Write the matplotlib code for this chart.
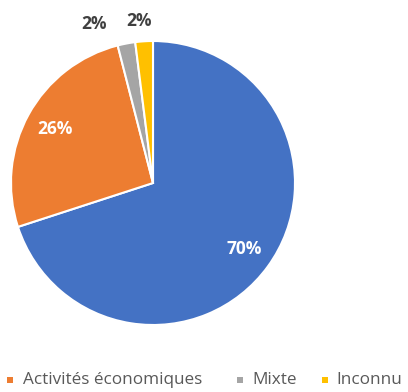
import matplotlib.pyplot as plt
from matplotlib.patches import Rectangle

# data
categories = ['Habitat', 'Activités économiques', 'Mixte', 'Inconnu']
values = [70, 26, 2, 2]
colors = ['#4472C4', '#ED7D31', '#A5A5A5', '#FFC000']
legend_idx = [1, 2, 3]   # blue entry is cut off in the original

plt.rcParams['font.family'] = ['Open Sans', 'DejaVu Sans']

fig = plt.figure(figsize=(4.08, 3.92), dpi=100)
cx, cy, r = 153, 183, 142
ax = fig.add_axes([(cx - r) / 408, (392 - cy - r) / 392, 2 * r / 408, 2 * r / 392])

wedges, texts, autotexts = ax.pie(values, colors=colors, startangle=90, counterclock=False,
                                  radius=1, autopct='%d%%', pctdistance=0.79,
                                  wedgeprops=dict(edgecolor='white', linewidth=1.5),
                                  textprops=dict(color='white', fontsize=12.5, fontweight='bold'))

# small slices: labels outside, in dark grey
outside = {2: (-0.415, 1.12), 3: (-0.10, 1.14)}
for i, (x, y) in outside.items():
    autotexts[i].set_position((x, y))
    autotexts[i].set_color('#404040')

ax.set_xlim(-1, 1)
ax.set_ylim(-1, 1)
ax.set_aspect('equal')
ax.axis('off')

# legend drawn by hand (marker x, text x in pixels)
leg_pos = [(7, 23), (237, 252), (322, 336)]
ly = 1 - 380 / 392
for (mx, tx), i in zip(leg_pos, legend_idx):
    fig.patches.append(Rectangle((mx / 408, ly - 3 / 392), 6 / 408, 6 / 392,
                                 facecolor=colors[i], edgecolor='none',
                                 transform=fig.transFigure, figure=fig))
    fig.text(tx / 408, ly, categories[i], fontsize=12.3, color='#595959',
             va='center', ha='left')

plt.savefig('out.png', dpi=100)
